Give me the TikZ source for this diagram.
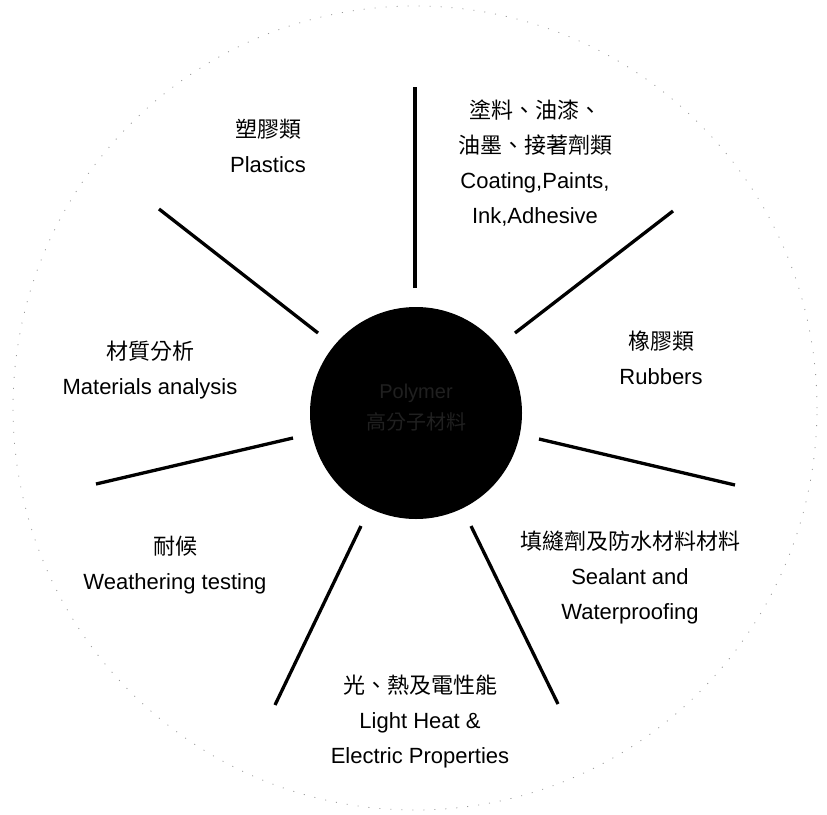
\documentclass[tikz,border=0pt]{standalone}
\usepackage{fontspec}
\setmainfont{Liberation Sans}
\newfontfamily\cjk{Noto Sans CJK TC}
\tikzset{
  spoke/.style={line width=3.3pt, black},
  lbl/.style={align=center, font=\fontsize{22}{35}\selectfont, inner sep=0pt},
  core/.style={circle, fill=black, minimum size=212pt, inner sep=0pt},
  coretext/.style={align=center, text={rgb,255:red,32;green,32;blue,32}, font=\fontsize{20}{31}\selectfont},
  halo/.style={draw=black!40, line width=0.8pt, dash pattern=on 1pt off 10pt}
}
\begin{document}
\begin{tikzpicture}[x=1pt,y=-1pt]
\useasboundingbox (0,0) rectangle (827,814);
\fill[white] (0,0) rectangle (827,814);
\draw[halo] (415,408) circle[radius=402pt];

\node[core] (core) at (416,413) {};
\node[coretext] (coretxt) at (416,408) {Polymer\\{\cjk 高分子材料}};

% spoke ends
\coordinate (n1) at (415,288);  \coordinate (n2) at (415,87);
\coordinate (ne1) at (515,333); \coordinate (ne2) at (673,211);
\coordinate (e1) at (539,439);  \coordinate (e2) at (735,485);
\coordinate (se1) at (471,526); \coordinate (se2) at (558,704);
\coordinate (sw1) at (361,526); \coordinate (sw2) at (275,705);
\coordinate (w1) at (293,438);  \coordinate (w2) at (96,484);
\coordinate (nw1) at (318,333); \coordinate (nw2) at (159,209);

\draw[spoke] (n1) -- (n2);
\draw[spoke] (ne1) -- (ne2);
\draw[spoke] (e1) -- (e2);
\draw[spoke] (se1) -- (se2);
\draw[spoke] (sw1) -- (sw2);
\draw[spoke] (w1) -- (w2);
\draw[spoke] (nw1) -- (nw2);

\node[lbl] (plastics) at (268,146) {{\cjk 塑膠類}\\Plastics};
\node[lbl] (coating) at (535,163) {{\cjk 塗料、油漆、}\\{\cjk 油墨、接著劑類}\\Coating,Paints,\\Ink,Adhesive};
\node[lbl] (rubber) at (661,358) {{\cjk 橡膠類}\\Rubbers};
\node[lbl] (material) at (150,370) {{\cjk 材質分析}\\Materials analysis};
\node[lbl] (weather) at (175,565) {{\cjk 耐候}\\Weathering testing};
\node[lbl] (sealant) at (630,577) {{\cjk 填縫劑及防水材料材料}\\Sealant and\\Waterproofing};
\node[lbl] (light) at (420,722) {{\cjk 光、熱及電性能}\\Light Heat \&\\Electric Properties};
\end{tikzpicture}
\end{document}
